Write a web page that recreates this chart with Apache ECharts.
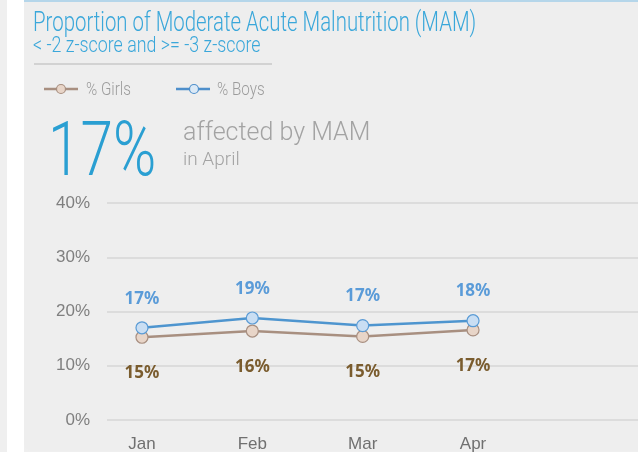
<!DOCTYPE html>
<html><head><meta charset="utf-8">
<script src="https://cdn.jsdelivr.net/npm/echarts@6/dist/echarts.min.js"></script>
<style>html,body{margin:0;padding:0;background:#efefef}#c{width:638px;height:452px}</style>
</head><body><div id="c"></div>
<script>
var categories = ['Jan', 'Feb', 'Mar', 'Apr'];
var girls = [15.25, 16.4, 15.4, 16.6];
var boys = [17.0, 18.8, 17.4, 18.3];
var yTicks = [0, 10, 20, 30, 40];
var girlsLabels = ['15%', '16%', '15%', '17%'];
var boysLabels = ['17%', '19%', '17%', '18%'];
var headlineValue = '17%';
var headlineMonth = 'in April';

var chart = echarts.init(document.getElementById('c'), null, {renderer: 'canvas'});
var pts = function (arr) { return arr.map(function (v, i) { return [i, v]; }); };
var font = 'Roboto';

chart.setOption({
  backgroundColor: '#efefef',
  animation: false,
  graphic: [
    {type: 'rect', shape: {x: 7, y: 0, width: 17, height: 452}, style: {fill: '#ffffff'}, z: -10},
    {type: 'rect', shape: {x: 24, y: -10, width: 630, height: 461, r: 8}, style: {fill: '#eeeeee'}, z: -9},
    {type: 'rect', shape: {x: 24, y: 0, width: 614, height: 2}, style: {fill: '#b5d6ea'}, z: -8},
    {type: 'text', x: 33, y: 11, scaleX: 0.755, style: {text: 'Proportion of Moderate Acute Malnutrition (MAM)', fill: '#3aa7da', font: '300 27px ' + font, textVerticalAlign: 'top'}},
    {type: 'text', x: 33, y: 35, scaleX: 0.81, style: {text: '< -2 z-score and >= -3 z-score', fill: '#3aa7da', font: '300 22px ' + font, textVerticalAlign: 'top'}},
    {type: 'rect', shape: {x: 34, y: 63, width: 238, height: 2}, style: {fill: '#d2d2d2'}},
    // legend
    {type: 'line', shape: {x1: 44, y1: 89, x2: 78, y2: 89}, style: {stroke: '#a88f80', lineWidth: 2.5}},
    {type: 'circle', shape: {cx: 61, cy: 89, r: 4.5}, style: {fill: '#e8d5c8', stroke: '#a88f80', lineWidth: 1.2}},
    {type: 'text', x: 86, y: 90, scaleX: 0.8, style: {text: '% Girls', fill: '#9c9c9c', font: '300 19px ' + font, textVerticalAlign: 'middle'}},
    {type: 'line', shape: {x1: 176, y1: 89, x2: 210, y2: 89}, style: {stroke: '#4e8fcb', lineWidth: 2.5}},
    {type: 'circle', shape: {cx: 194, cy: 89, r: 4.5}, style: {fill: '#dbe9f6', stroke: '#4e8fcb', lineWidth: 1.2}},
    {type: 'text', x: 217, y: 90, scaleX: 0.8, style: {text: '% Boys', fill: '#9c9c9c', font: '300 19px ' + font, textVerticalAlign: 'middle'}},
    // headline
    {type: 'text', x: 48, y: 118, scaleX: 0.77, style: {text: headlineValue, fill: '#2a9fd2', font: '300 76px ' + font, textVerticalAlign: 'top'}},
    {type: 'text', x: 183, y: 121, style: {text: 'affected by MAM', fill: '#a3a3a3', font: '300 25px ' + font, textVerticalAlign: 'top'}},
    {type: 'text', x: 183, y: 151, style: {text: headlineMonth, fill: '#a3a3a3', font: '300 19px ' + font, textVerticalAlign: 'top'}}
  ],
  grid: {left: 107, right: 0, top: 203, bottom: 32, outerBoundsMode: 'none', containLabel: false},
  xAxis: {
    type: 'value', min: -0.317, max: 4.495,
    axisLine: {show: false}, axisTick: {show: false}, splitLine: {show: false},
    axisLabel: {
      customValues: [0, 1, 2, 3], margin: 16,
      color: '#707070', fontSize: 17, fontFamily: 'Liberation Sans',
      formatter: function (v) { return categories[Math.round(v)]; }
    }
  },
  yAxis: {
    type: 'value', min: 0, max: 40, interval: 10,
    axisLine: {show: false}, axisTick: {show: false},
    splitLine: {lineStyle: {color: '#d6d6d6', width: 1.5}},
    axisLabel: {margin: 17, color: '#7f7f7f', fontSize: 17, fontFamily: 'Liberation Sans', formatter: '{value}%'}
  },
  series: [
    {
      name: '% Girls', type: 'line', data: pts(girls),
      symbol: 'circle', symbolSize: 12,
      lineStyle: {color: '#a88f80', width: 2.5},
      itemStyle: {color: '#e8d5c8', borderColor: '#a88f80', borderWidth: 1.2},
      label: {show: true, position: 'bottom', distance: 21, color: '#7a5c2e', fontWeight: 'bold', fontSize: 17, fontFamily: 'Noto Sans',
        formatter: function (p) { return girlsLabels[p.dataIndex]; }},
      z: 2
    },
    {
      name: '% Boys', type: 'line', data: pts(boys),
      symbol: 'circle', symbolSize: 12,
      lineStyle: {color: '#4e95cf', width: 2.5},
      itemStyle: {color: '#c9def3', borderColor: '#5a9bd5', borderWidth: 1.2},
      label: {show: true, position: 'top', distance: 14, color: '#5a9bd8', fontWeight: 'bold', fontSize: 17, fontFamily: 'Noto Sans',
        formatter: function (p) { return boysLabels[p.dataIndex]; }},
      z: 3
    }
  ]
});
</script></body></html>
